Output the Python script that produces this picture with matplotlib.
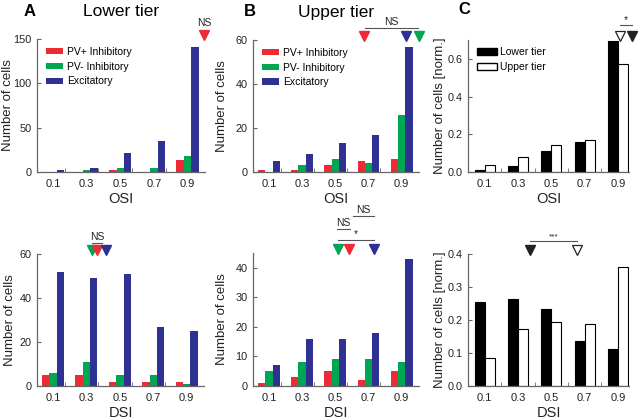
import numpy as np
import matplotlib
matplotlib.use("Agg")
import matplotlib.pyplot as plt
from matplotlib.transforms import blended_transform_factory
from matplotlib.patches import Patch

plt.rcParams['font.family'] = ['Liberation Sans', 'DejaVu Sans']

# ====== data ======
bins = ["0.1", "0.3", "0.5", "0.7", "0.9"]
cell_types = ["PV+ Inhibitory", "PV- Inhibitory", "Excitatory"]
tiers = ["Lower tier", "Upper tier"]

osi_lower_pvp = [0, 0, 2, 0, 14]
osi_lower_pvm = [0, 2, 4, 4, 18]
osi_lower_exc = [2, 5, 21, 35, 141]

dsi_lower_pvp = [5, 5, 2, 2, 2]
dsi_lower_pvm = [6, 11, 5, 5, 1]
dsi_lower_exc = [52, 49, 51, 27, 25]

osi_upper_pvp = [1, 1, 3, 5, 6]
osi_upper_pvm = [0, 3, 6, 4, 26]
osi_upper_exc = [5, 8, 13, 17, 57]

dsi_upper_pvp = [1, 3, 5, 2, 5]
dsi_upper_pvm = [5, 8, 9, 9, 8]
dsi_upper_exc = [7, 16, 16, 18, 43]

osi_norm_lower = [0.009, 0.03, 0.111, 0.157, 0.697]
osi_norm_upper = [0.039, 0.078, 0.143, 0.169, 0.574]
dsi_norm_lower = [0.255, 0.263, 0.234, 0.137, 0.113]
dsi_norm_upper = [0.085, 0.172, 0.195, 0.189, 0.362]

# medians (in bin-index units) shown as triangles
med_osi_lower = [4.49]            # PV+ only shown
med_dsi_lower = [1.32, 1.18, 1.59]  # PV+, PV-, Exc
med_osi_upper = [2.86, 4.51, 4.12]
med_dsi_upper = [2.40, 2.08, 3.16]
med_osi_norm = [4.43, 4.05]       # lower, upper
med_dsi_norm = [1.37, 2.77]

colors = ['#ee2a35', '#00a651', '#2e3192']
spine_col = '#666666'
txt_col = '#222222'

W, H = 640, 419
fig = plt.figure(figsize=(6.4, 4.19), dpi=100)


def make_ax(l, r, t, b):
    return fig.add_axes([l / W, 1 - b / H, (r - l) / W, (b - t) / H])


def style(ax, xlim, ylim, yticks, minor, xlabel, ylabel, ylab_x):
    ax.set_xlim(*xlim)
    ax.set_ylim(*ylim)
    for s in ['top', 'right']:
        ax.spines[s].set_visible(False)
    for s in ['left', 'bottom']:
        ax.spines[s].set_color(spine_col)
        ax.spines[s].set_linewidth(0.9)
    ax.set_xticks(range(5))
    ax.set_xticklabels(bins)
    ax.set_xticks(minor, minor=True)
    ax.set_yticks(yticks)
    ax.tick_params(axis='x', which='major', length=0, pad=5, labelsize=8, labelcolor=txt_col)
    ax.tick_params(axis='x', which='minor', direction='in', length=3, color=spine_col)
    ax.tick_params(axis='y', direction='in', length=3, color=spine_col, labelsize=7.8,
                   labelcolor=txt_col, pad=4)
    ax.set_xlabel(xlabel, fontsize=10.5, color=txt_col, labelpad=2)
    ax.set_ylabel(ylabel, fontsize=9.5, color=txt_col)
    ax.yaxis.set_label_coords(ylab_x, 0.5)


def tri(ax, xs, cols, y=1.03, filled=True):
    tr = blended_transform_factory(ax.transData, ax.transAxes)
    for x, c in zip(xs, cols):
        if filled:
            ax.plot([x], [y], marker='v', ms=6.5, color=c, mec=c, transform=tr, clip_on=False)
        else:
            ax.plot([x], [y], marker='v', ms=6.5, mfc='white', mec=c, mew=0.9,
                    transform=tr, clip_on=False)


def bracket(ax, x0, x1, y, label, fs=7.5):
    tr = blended_transform_factory(ax.transData, ax.transAxes)
    ax.plot([x0, x1], [y, y], color='#555555', lw=0.8, transform=tr, clip_on=False)
    ax.text((x0 + x1) / 2, y + 0.005, label, ha='center', va='bottom', fontsize=fs,
            color=txt_col, transform=tr)


def bars3(ax, a, b, c):
    x = np.arange(5)
    w = 0.22
    for off, vals, col, lab in zip([-w, 0, w], [a, b, c], colors, cell_types):
        ax.bar(x + off, vals, width=w, color=col, label=lab, linewidth=0)


def bars2(ax, a, b):
    x = np.arange(5)
    w = 0.3
    ax.bar(x - w / 2, a, width=w, color='black', edgecolor='black', linewidth=0.8)
    ax.bar(x + w / 2, b, width=w, color='white', edgecolor='black', linewidth=0.8)


minor3 = [i + 0.35 for i in range(4)]
minor2 = [i + 0.5 for i in range(4)]
xlim3 = (-0.48, 4.52)
xlim2 = (-0.5, 4.33)

# ====== A ======
axA1 = make_ax(37, 205, 39, 172)
bars3(axA1, osi_lower_pvp, osi_lower_pvm, osi_lower_exc)
style(axA1, xlim3, (0, 150), [0, 50, 100, 150], minor3, "OSI", "Number of cells", -0.135)
axA1.legend(loc='upper left', bbox_to_anchor=(0.052, 0.94), frameon=False, fontsize=7.5,
            borderpad=0, borderaxespad=0, handlelength=1.7, handleheight=0.55,
            handletextpad=0.35, labelspacing=0.45)
tri(axA1, med_osi_lower, [colors[0]])
axA1.text(med_osi_lower[0], 1.085, "NS", ha='center', va='bottom', fontsize=7.5, color=txt_col,
          transform=blended_transform_factory(axA1.transData, axA1.transAxes))

axA2 = make_ax(37, 204, 254, 386)
bars3(axA2, dsi_lower_pvp, dsi_lower_pvm, dsi_lower_exc)
style(axA2, xlim3, (0, 60), [0, 20, 40, 60], minor3, "DSI", "Number of cells", -0.125)
tri(axA2, [med_dsi_lower[1], med_dsi_lower[0], med_dsi_lower[2]], [colors[1], colors[0], colors[2]])
bracket(axA2, 1.16, 1.48, 1.085, "NS")

# ====== B ======
axB1 = make_ax(253, 419, 40, 172)
bars3(axB1, osi_upper_pvp, osi_upper_pvm, osi_upper_exc)
style(axB1, xlim3, (0, 60), [0, 20, 40, 60], minor3, "OSI", "Number of cells", -0.15)
axB1.legend(loc='upper left', bbox_to_anchor=(0.052, 0.94), frameon=False, fontsize=7.5,
            borderpad=0, borderaxespad=0, handlelength=1.7, handleheight=0.55,
            handletextpad=0.35, labelspacing=0.45)
tri(axB1, med_osi_upper, colors)
bracket(axB1, 2.89, 4.49, 1.09, "NS")

axB2 = make_ax(253, 419, 253, 386)
bars3(axB2, dsi_upper_pvp, dsi_upper_pvm, dsi_upper_exc)
style(axB2, xlim3, (0, 45), [0, 10, 20, 30, 40], minor3, "DSI", "Number of cells", -0.15)
tri(axB2, [med_dsi_upper[1], med_dsi_upper[0], med_dsi_upper[2]], [colors[1], colors[0], colors[2]])
bracket(axB2, 2.09, 3.16, 1.10, "*")
bracket(axB2, 2.04, 2.44, 1.18, "NS")
bracket(axB2, 2.54, 3.16, 1.28, "NS")

# ====== C ======
axC1 = make_ax(468, 629, 40, 172)
bars2(axC1, osi_norm_lower, osi_norm_upper)
style(axC1, xlim2, (0, 0.7), [0, 0.2, 0.4, 0.6], minor2, "OSI", "Number of cells [norm.]", -0.135)
axC1.legend(handles=[Patch(facecolor='black', edgecolor='black', label=tiers[0]),
                     Patch(facecolor='white', edgecolor='black', label=tiers[1])],
            loc='upper left', bbox_to_anchor=(0.056, 0.945), frameon=False, fontsize=7.5,
            borderpad=0, borderaxespad=0, handlelength=1.9, handleheight=0.65,
            handletextpad=0.3, labelspacing=0.5)
tri(axC1, [med_osi_norm[0]], ['#222222'])
tri(axC1, [med_osi_norm[1]], ['#222222'], filled=False)
bracket(axC1, 4.06, 4.43, 1.11, "*")

axC2 = make_ax(468, 629, 254, 386)
bars2(axC2, dsi_norm_lower, dsi_norm_upper)
style(axC2, xlim2, (0, 0.4), [0, 0.1, 0.2, 0.3, 0.4], minor2, "DSI", "Number of cells [norm.]", -0.135)
tri(axC2, [med_dsi_norm[0]], ['#222222'])
tri(axC2, [med_dsi_norm[1]], ['#222222'], filled=False)
bracket(axC2, med_dsi_norm[0], med_dsi_norm[1], 1.10, "***", fs=6)

# ====== titles / panel letters ======
fig.text(30 / W, 1 - 12 / H, "A", fontsize=12, fontweight='bold', ha='center', va='center')
fig.text(121 / W, 1 - 12 / H, tiers[0], fontsize=12.5, ha='center', va='center')
fig.text(250 / W, 1 - 12 / H, "B", fontsize=12, fontweight='bold', ha='center', va='center')
fig.text(336 / W, 1 - 12 / H, tiers[1], fontsize=12.5, ha='center', va='center')
fig.text(464 / W, 1 - 10 / H, "C", fontsize=12, fontweight='bold', ha='center', va='center')

fig.savefig("out.png", dpi=100)
